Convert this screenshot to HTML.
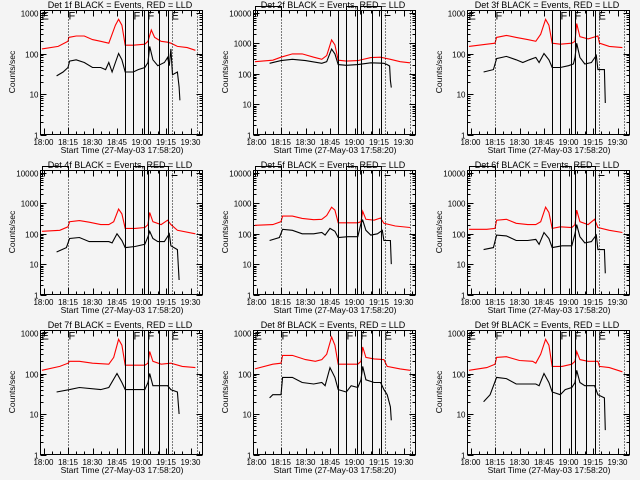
<!DOCTYPE html>
<html><head><meta charset="utf-8"><style>
html,body{margin:0;padding:0;background:#f4f4f4;}
svg{display:block;font-family:"Liberation Sans",sans-serif;}
</style></head><body>
<svg id="fig" width="640" height="480" viewBox="0 0 640 480" xmlns="http://www.w3.org/2000/svg">
<rect width="640" height="480" fill="#f4f4f4"/>
</svg>
<script>
// time in minutes after 18:00
const panelTitles = ["Det 1f BLACK = Events, RED = LLD","Det 2f BLACK = Events, RED = LLD","Det 3f BLACK = Events, RED = LLD","Det 4f BLACK = Events, RED = LLD","Det 5f BLACK = Events, RED = LLD","Det 6f BLACK = Events, RED = LLD","Det 7f BLACK = Events, RED = LLD","Det 8f BLACK = Events, RED = LLD","Det 9f BLACK = Events, RED = LLD"];
const panelDecades = [3,4,3,4,4,4,3,3,3];
const xTickLabels = ["18:00","18:15","18:30","18:45","19:00","19:15","19:30"];
const xTickMinutes = [0,15,30,45,60,75,90];
const markerMinutes = [49.6,55.1,61.8,63.7,71,76.5];
const dottedMinutes = [15.3,78.4,93.7];
const redT = [
[-1,9,15,15.5,20,25,30,35,40,44,46,48,50,55,62,64,66,68,72,76,78,82,88,93],
[-1,10,15,22,28,35,40,43,46,48,50,55,62,70,76,82,88,94],
[-1,10,15,16,22,28,35,40,43,46,48,50,55,62,64,65,67,72,78,79,85,93],
[-1,10,15,16,22,28,35,40,43,46,48,50,56,62,64,65,67,72,76,78,82,93],
[-1,10,15,16,22,28,35,40,43,46,48,50,55,62,64,65,67,72,76,78,85,94],
[-1,10,15,16,22,28,35,40,43,46,48,50,55,62,64,65,67,72,76,78,85,93],
[-1,10,15,16,22,30,40,43,46,48,50,62,64,65,67,72,78,85,93],
[-1,10,15,16,22,30,36,40,43,46,48,50,55,62,64,65,67,72,78,80,88,94],
[-1,10,15,16,22,30,38,40,43,46,48,50,56,62,64,65,67,72,78,79,85,93]];
const redV = [
[130,150,200,250,270,270,220,200,180,500,700,500,160,160,170,200,380,250,200,190,180,150,140,120],
[250,280,350,450,450,350,300,400,1300,900,280,260,270,340,350,300,250,230],
[150,170,180,250,280,250,220,200,300,700,500,180,170,180,200,550,260,230,270,180,150,140],
[120,130,170,250,270,240,200,200,250,650,450,150,150,160,200,500,250,200,280,200,130,100],
[190,200,250,380,380,320,290,300,400,750,600,230,230,230,250,550,300,280,330,220,180,160],
[140,140,150,280,300,220,200,200,250,750,500,150,170,160,200,600,250,200,300,160,130,110],
[120,150,180,200,200,180,170,250,700,500,160,160,180,350,200,170,180,150,140],
[130,170,180,280,280,220,200,220,300,800,500,170,170,170,200,450,250,230,220,150,130,120],
[120,140,170,250,260,210,200,180,300,700,500,150,150,170,200,350,220,200,200,150,140,110]];
const blackT = [
[8,12,15,16,20,25,30,35,38,40,42,44,46,48,50,55,58,62,64,65,67,70,74,76,77,78,79,82,83,83.5],
[8,15,22,30,40,43,46,48,50,55,62,70,78,80,81.5,82,82.5],
[8,14,16,22,28,32,36,40,42,45,48,50,55,60,63,64,65,67,70,74,77,78,82,82.5],
[8,14,16,22,28,35,40,42,45,48,50,56,62,64,65,67,70,74,77,78,82,83],
[8,14,16,22,28,35,40,42,45,48,50,56,62,64,65,67,70,74,77,78,82,82.5],
[8,14,16,22,28,35,40,42,45,48,50,56,62,64,65,67,70,74,77,78,82,82.5],
[8,16,22,35,40,45,48,50,62,64,65,67,76,78,82,83],
[8,10,15,16,22,28,35,40,42,45,48,50,55,58,62,64,65,67,72,76,78,80,82,82.5],
[8,12,16,22,28,35,40,42,45,48,50,55,58,62,64,65,67,70,76,78,82,82.5]];
const blackV = [
[28,35,45,65,70,60,45,45,40,60,35,60,100,70,35,35,40,45,60,150,70,50,60,80,50,130,30,35,15,7],
[220,270,300,270,220,250,650,450,200,190,200,230,220,200,180,60,35],
[35,40,75,85,70,60,70,80,60,100,70,45,45,50,55,80,180,80,55,60,90,40,40,6],
[25,35,70,75,55,55,55,50,100,60,35,38,45,80,120,70,55,55,100,40,30,3],
[60,75,140,130,100,100,110,90,150,120,75,80,80,220,280,130,90,100,130,60,60,10],
[30,35,90,85,60,60,65,45,110,70,35,40,40,100,200,80,50,55,90,30,30,5],
[35,40,45,40,45,100,60,40,40,60,100,50,50,40,35,10],
[25,30,30,80,80,60,55,60,50,140,80,40,35,50,45,70,150,70,60,60,40,30,15,7],
[20,30,80,75,55,55,55,50,100,60,35,30,40,45,60,120,60,50,50,30,25,4]];

const NS="http://www.w3.org/2000/svg";
const svg=document.getElementById('fig');
function el(tag,attrs,parent){const e=document.createElementNS(NS,tag);for(const k in attrs)e.setAttribute(k,attrs[k]);(parent||svg).appendChild(e);return e;}

for(let p=0;p<9;p++){
  const col=p%3,row=Math.floor(p/3);
  const ox=Math.round(col*213.33),oy=row*160;
  const L=ox+40.5,R=ox+202.5,T=oy+10.5,B=oy+134.5;
  const dec=panelDecades[p];
  const yTopLbl=oy+13;
  const pxDec=(B-yTopLbl)/dec;
  const xs=m=>L+3+m*(24.5/15);
  const ys=v=>B-Math.log10(v)*pxDec;
  const g=el('g',{});
  
  
  const t=el('text',{x:ox+120,y:oy+8,'font-size':'9','text-anchor':'middle',fill:'#000'},g);
  
  
  t.textContent=panelTitles[p];
  const bx=el('rect',{x:L,y:T,width:R-L,height:B-T,fill:'none',stroke:'#000','stroke-width':'1'},g);
  
  
  for(let d=0;d<=dec;d++){
    const y=Math.round(ys(Math.pow(10,d)))+0.5;
    el('line',{x1:L,y1:y,x2:L+6,y2:y,stroke:'#000'},g);
    el('line',{x1:R,y1:y,x2:R-6,y2:y,stroke:'#000'},g);
    const lb=el('text',{x:L-2,y:y+3,'font-size':'8','text-anchor':'end',fill:'#000'},g);
    
    
    lb.textContent=String(Math.pow(10,d));
    if(d<dec){for(let k=2;k<10;k++){const ym=Math.round(ys(k*Math.pow(10,d)))+0.5;
      el('line',{x1:L,y1:ym,x2:L+3,y2:ym,stroke:'#000'},g);
      el('line',{x1:R,y1:ym,x2:R-3,y2:ym,stroke:'#000'},g);}}
  }
  for(let m=0;m<=95;m+=5){const x=Math.round(xs(m))+0.5;if(x>R)break;const len=(m%15===0)?6:3;
    el('line',{x1:x,y1:B,x2:x,y2:B-len,stroke:'#000'},g);
    el('line',{x1:x,y1:T,x2:x,y2:T+len,stroke:'#000'},g);}
  xTickMinutes.forEach((m,i)=>{const lb=el('text',{x:xs(m),y:oy+145,'font-size':'8','text-anchor':'middle',fill:'#000'},g);
    
    
    lb.textContent=xTickLabels[i];});
  const xt=el('text',{x:ox+122,y:oy+153,'font-size':'8.5','text-anchor':'middle',fill:'#000'},g);
  
  
  xt.textContent='Start Time (27-May-03 17:58:20)';
  const yt=el('text',{x:0,y:0,'font-size':'8.5','text-anchor':'middle',fill:'#000',transform:`translate(${ox+15},${oy+72}) rotate(-90)`},g);
  
  
  yt.textContent='Counts/sec';
  const pts=(T_,V_)=>T_.map((tm,i)=>xs(tm).toFixed(1)+','+ys(V_[i]).toFixed(1)).join(' ');
  const rl=el('polyline',{points:pts(redT[p],redV[p]),fill:'none',stroke:'#ff0000','stroke-width':'1.1'},g);
  
  
  const bl=el('polyline',{points:pts(blackT[p],blackV[p]),fill:'none',stroke:'#000','stroke-width':'1.1'},g);
  
  
  markerMinutes.forEach(m=>{const x=Math.round(xs(m))+0.5;const ml=el('line',{x1:x,y1:T,x2:x,y2:B,stroke:'#000','stroke-width':'1'},g);
    
    });
  dottedMinutes.forEach(m=>{const x=Math.round(xs(m))+0.5;const ml=el('line',{x1:x,y1:T,x2:x,y2:B,stroke:'#000','stroke-width':'1','stroke-dasharray':'1,2'},g);
    
    });
  if(dec===3){
    [[L+1,'E'],[xs(15.3),'F'],[xs(55.1),'F'],[xs(63.7),'F'],[xs(78.4),'E']].forEach(a=>{
      const at=el('text',{x:a[0],y:T+9,'font-size':'11',fill:'#000'},g);
      
      
      at.textContent=a[1];});
  } else {
    const yb=oy+6.5;
    const br=el('path',{d:`M${L+2},${T+6}V${yb}H${xs(15.3)}V${T+6} M${xs(55.1)},${T+6}V${yb}H${xs(61.8)}V${yb+4} M${xs(63.7)},${T+4}V${yb}H${xs(76.5)}V${T+4} M${xs(78.4)},${T+5}H${xs(82)}`,fill:'none',stroke:'#000'},g);
    
    
  }
}
</script>
</body></html>
